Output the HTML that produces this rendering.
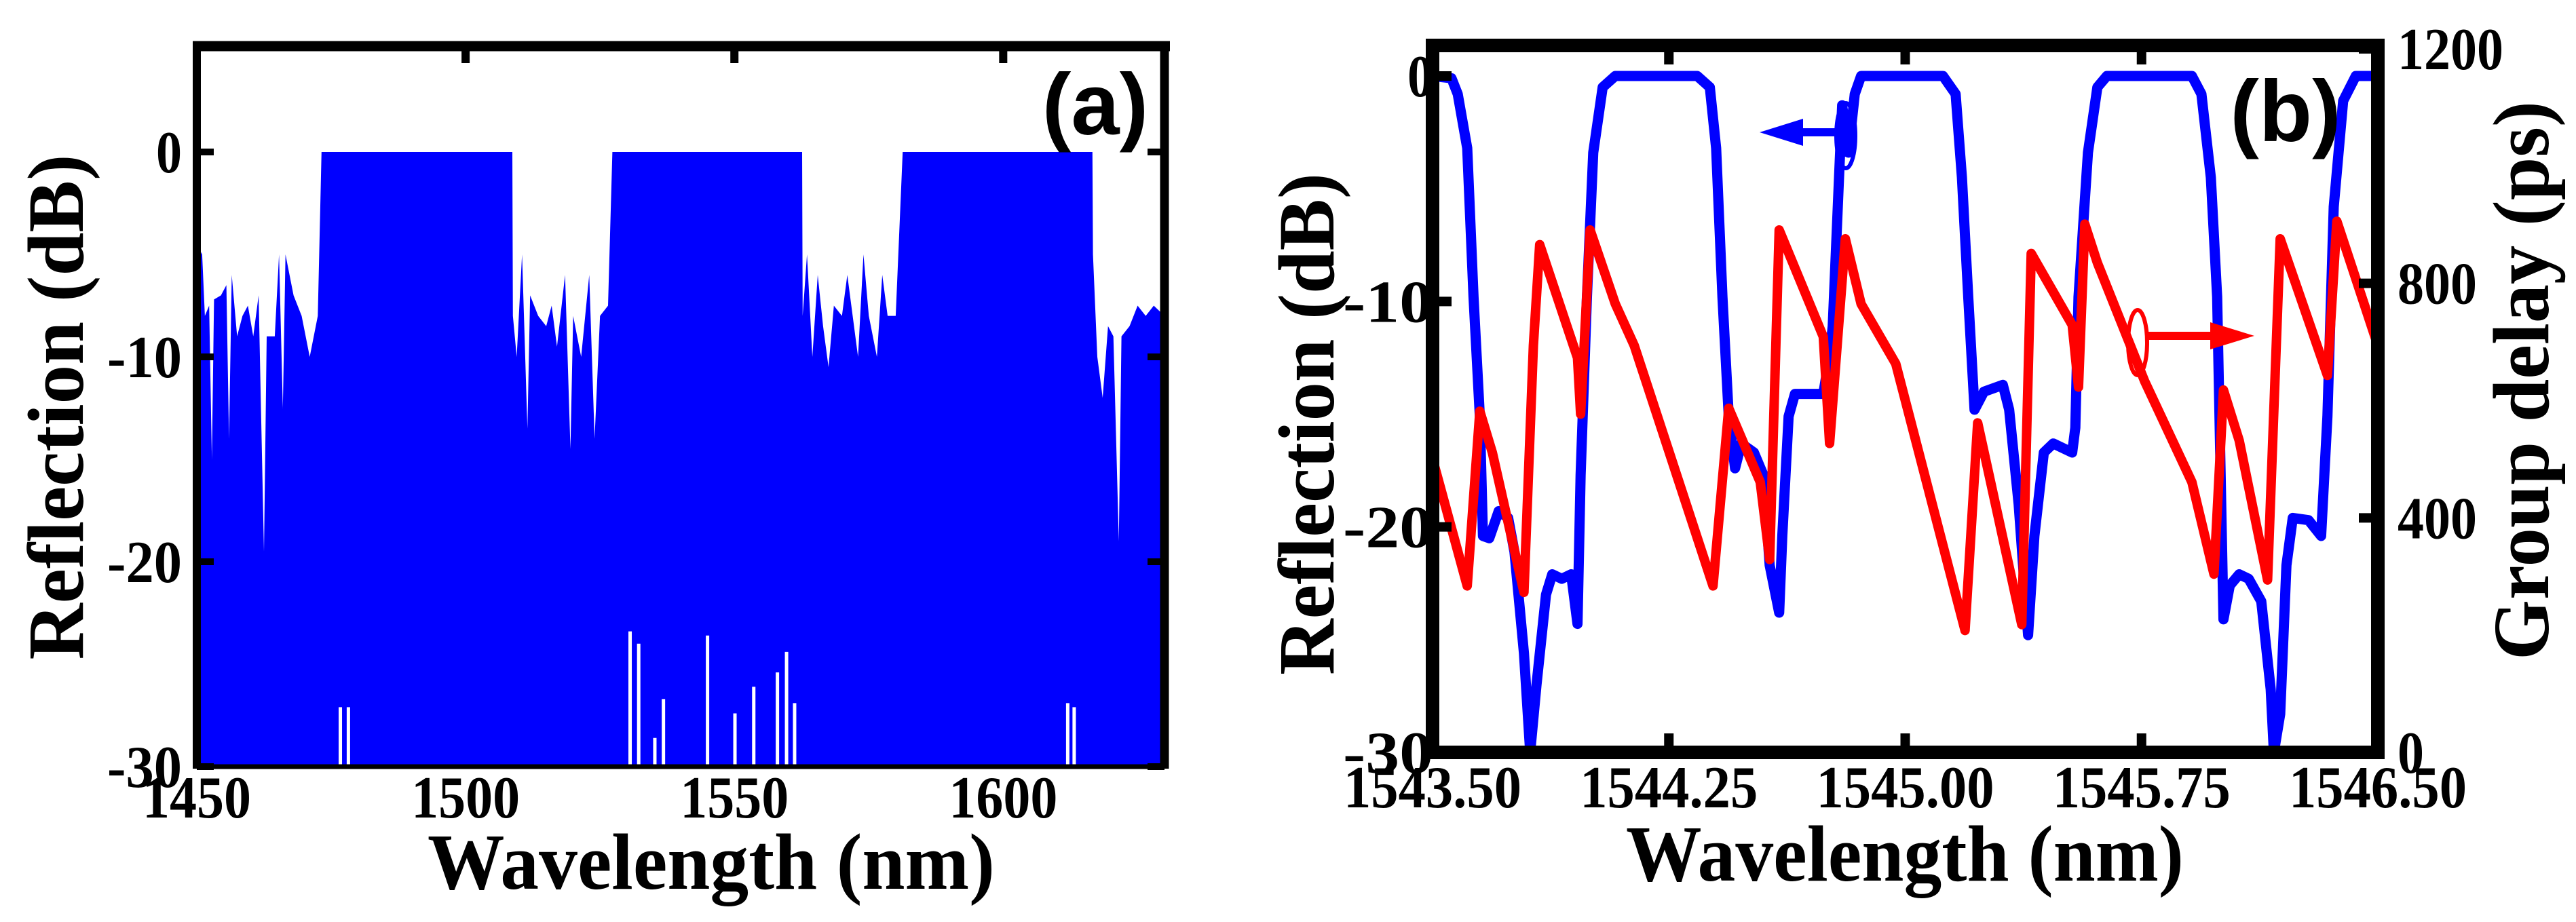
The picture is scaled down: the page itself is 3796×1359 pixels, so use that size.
<!DOCTYPE html>
<html><head><meta charset="utf-8"><style>
html,body{margin:0;padding:0;background:#fff;}
svg{display:block;}
text{font-family:"Liberation Serif",serif;font-weight:bold;fill:#000;}
.lab{font-family:"Liberation Sans",sans-serif;}
</style></head><body>
<svg id="fig" width="3796" height="1359" viewBox="0 0 3796 1359" xmlns="http://www.w3.org/2000/svg">
<g id="pa"></g>
<g id="pb"></g>
</svg>
<script>
// ---------- Panel (a) data ----------
const aTicksX = [1450, 1500, 1550, 1600];
const aTicksY = [0, -10, -20, -30];
const aSpecW = [1450,1451,1451.5,1452.3,1452.8,1453.2,1454.5,1455.5,1456,1456.5,1457.5,1458.5,1459.5,1460.5,1461.5,1462.5,1463,1464.5,1465.3,1466,1466.5,1468,1469.5,1471,1472.5,1473.2,1508.7,
 1508.8,1509.5,1510.5,1511.5,1512,1513.5,1515,1516,1517,1518.5,1519.5,1520,1521.5,1523,1524,1525,1526.5,1527.3,1562.6,
 1562.7,1563.5,1564.5,1565.5,1566.5,1567.5,1568.5,1570,1571,1572,1573,1574,1575,1576.5,1577.5,1578.5,1580,1581.3,1616.6,
 1616.7,1617.5,1618.5,1619.5,1620.5,1621.5,1622,1623.5,1625,1626.5,1628,1630];
const aSpecR = [-4.5,-5,-8,-7.5,-15,-7.2,-7,-6.5,-14,-6,-9,-8,-7.5,-9,-7,-19.5,-9,-9,-5,-12.5,-5,-7,-8,-10,-8,0,0,
 -8,-10,-5,-13.5,-7,-8,-8.5,-7.5,-9.5,-6,-14.5,-8,-10,-6,-14,-8,-7.5,0,0,
 -8,-5,-10,-6,-8.5,-10.5,-7.5,-8,-6,-8,-10,-5,-8,-10,-6,-8,-8,0,0,
 -5,-10,-12,-8.5,-9,-19,-9,-8.5,-7.5,-8,-7.5,-8];
const aGapW = [1476.7,1478.2,1530.6,1532.2,1535.2,1536.8,1545.0,1550.1,1553.6,1558.0,1559.7,1561.2,1612.0,1613.2];
const aGapTop = [-27.1,-27.1,-23.4,-24,-28.6,-26.7,-23.6,-27.4,-26.1,-25.4,-24.4,-26.9,-26.9,-27.1];

// ---------- Panel (b) data ----------
const bTicksX = [1543.50, 1544.25, 1545.00, 1545.75, 1546.50];
const bTickLabelsX = ["1543.50","1544.25","1545.00","1545.75","1546.50"];
const bTicksY = [0, -10, -20, -30];
const bTicksY2 = [0, 400, 800, 1200];
const reflW = [1543.50,1543.56,1543.58,1543.61,1543.63,1543.65,1543.66,1543.68,1543.71,1543.74,1543.76,1543.79,1543.81,1543.83,1543.86,1543.88,1543.91,1543.94,1543.96,1543.97,1543.99,1544.01,1544.04,1544.08,1544.34,1544.38,1544.40,1544.42,1544.44,1544.46,1544.48,1544.52,1544.55,1544.57,1544.60,1544.61,1544.63,1544.65,1544.74,1544.76,1544.77,1544.79,1544.80,1544.82,1544.84,1544.86,1545.12,1545.16,1545.18,1545.20,1545.22,1545.25,1545.31,1545.33,1545.36,1545.39,1545.41,1545.44,1545.47,1545.53,1545.54,1545.55,1545.58,1545.61,1545.64,1545.91,1545.94,1545.97,1545.99,1546.01,1546.03,1546.06,1546.09,1546.13,1546.16,1546.17,1546.19,1546.21,1546.23,1546.28,1546.32,1546.34,1546.36,1546.39,1546.43,1546.50];
const reflDB = [0,-0.1,-0.8,-3.2,-9.8,-15.1,-20.4,-20.5,-19.3,-19.6,-21.1,-25.6,-30,-27,-23,-22.1,-22.3,-22.1,-24.3,-17.7,-9.8,-3.4,-0.5,0,0,-0.5,-3.2,-9.8,-15.1,-17.4,-16.3,-16.7,-17.7,-21.7,-23.8,-20.4,-15.1,-14.1,-14.1,-12.4,-11.1,-4.5,-1.3,-3.4,-0.8,0,0,-0.8,-4.5,-9.8,-14.8,-14,-13.7,-14.8,-19,-24.8,-20.4,-16.7,-16.3,-16.7,-15.6,-9.8,-3.4,-0.5,0,0,-0.8,-4.5,-9.8,-24.1,-22.6,-22.1,-22.3,-23.3,-27.2,-30,-28.3,-21.7,-19.6,-19.7,-20.4,-15.1,-5.8,-1.1,0,0];
const delayW = [1543.50,1543.61,1543.65,1543.69,1543.79,1543.82,1543.84,1543.96,1543.97,1544.00,1544.08,1544.14,1544.39,1544.44,1544.54,1544.57,1544.60,1544.74,1544.76,1544.81,1544.86,1544.97,1545.19,1545.23,1545.37,1545.40,1545.53,1545.55,1545.57,1545.61,1545.76,1545.91,1545.98,1546.01,1546.06,1546.15,1546.19,1546.34,1546.37,1546.50];
const delayPS = [501,284,582,511,273,694,866,673,577,891,765,694,284,587,461,329,891,709,527,876,765,663,208,562,218,851,729,623,901,835,633,461,304,618,532,294,876,643,906,694];

const NS = "http://www.w3.org/2000/svg";
function mk(parent, tag, attrs, txt){ const e=document.createElementNS(NS,tag); for(const k in attrs) e.setAttribute(k,attrs[k]); if(txt!==undefined) e.textContent=txt; parent.appendChild(e); return e; }

// ---------- Panel (a) ----------
(function(){
 const g=document.getElementById('pa');
 const L=290,R=1716,T=68,B=1130;
 const xmin=1450,xmax=1630;
 const X=w=>L+(w-xmin)/(xmax-xmin)*(R-L);
 const Y=d=>224+(-d)*(B-224)/30;
 // fill
 let pts=`${X(aSpecW[0])},${B} `;
 for(let i=0;i<aSpecW.length;i++) pts+=`${X(aSpecW[i]).toFixed(1)},${Y(aSpecR[i]).toFixed(1)} `;
 pts+=`${X(aSpecW[aSpecW.length-1])},${B}`;
 const f=mk(g,'polygon',{points:pts,fill:'#0000ff'});
 
 
 for(let i=0;i<aGapW.length;i++){
  const l=mk(g,'line',{x1:X(aGapW[i]),x2:X(aGapW[i]),y1:B,y2:Y(aGapTop[i]),stroke:'#fff','stroke-width':5});
  
  
 }
 // frame
 const fr=mk(g,'g',{});
 
 
 mk(fr,'line',{x1:L-6,x2:R+8,y1:T,y2:T,stroke:'#000','stroke-width':15});
 mk(fr,'line',{x1:L,x2:L,y1:T,y2:B+3,stroke:'#000','stroke-width':12});
 mk(fr,'line',{x1:R,x2:R,y1:T,y2:B+3,stroke:'#000','stroke-width':13});
 mk(fr,'line',{x1:L,x2:R,y1:B,y2:B,stroke:'#000','stroke-width':7});
 aTicksX.forEach(v=>{
  mk(fr,'line',{x1:X(v),x2:X(v),y1:T,y2:T+25,stroke:'#000','stroke-width':12});
  const t=mk(g,'text',{x:X(v),y:1205,'text-anchor':'middle','font-size':88,textLength:160,lengthAdjust:'spacingAndGlyphs'},String(v));
  
  
 });
 aTicksY.forEach(v=>{
  mk(fr,'line',{x1:L,x2:L+25,y1:Y(v),y2:Y(v),stroke:'#000','stroke-width':10});
  mk(fr,'line',{x1:R-25,x2:R,y1:Y(v),y2:Y(v),stroke:'#000','stroke-width':10});
  const s=String(v);
  const t=mk(g,'text',{x:268,y:Y(v)+30,'text-anchor':'end','font-size':88,textLength:s.length===1?38:110,lengthAdjust:'spacingAndGlyphs'},s);
  
  
 });
 const xl=mk(g,'text',{x:1048,y:1310,'text-anchor':'middle','font-size':118,textLength:836,lengthAdjust:'spacingAndGlyphs'},'Wavelength (nm)');
 
 
 const yl=mk(g,'text',{x:0,y:0,'text-anchor':'middle','font-size':118,textLength:745,lengthAdjust:'spacingAndGlyphs',transform:'translate(122,600) rotate(-90)'},'Reflection (dB)');
 
 
 const pl=mk(g,'text',{x:1614,y:198,'text-anchor':'middle','font-size':128,class:'lab'},'(a)');
 
 
})();

// ---------- Panel (b) ----------
(function(){
 const g=document.getElementById('pb');
 const L=2111,R=3504,T=67,B=1109;
 const xmin=1543.5,xmax=1546.5;
 const X=w=>L+(w-xmin)/(xmax-xmin)*(R-L);
 const Y=d=>112+(-d)*(B-112)/30;
 const Y2=p=>B-p*(B-72)/1200;
 let p1='';
 for(let i=0;i<reflW.length;i++) p1+=`${X(reflW[i]).toFixed(1)},${Y(reflDB[i]).toFixed(1)} `;
 const bl=mk(g,'polyline',{points:p1,fill:'none',stroke:'#0000ff','stroke-width':15,'stroke-linejoin':'round'});
 
 
 let p2='';
 for(let i=0;i<delayW.length;i++) p2+=`${X(delayW[i]).toFixed(1)},${Y2(delayPS[i]).toFixed(1)} `;
 const rl=mk(g,'polyline',{points:p2,fill:'none',stroke:'#ff0000','stroke-width':14,'stroke-linejoin':'round'});
 
 
 // annotation arrows
 const a1=mk(g,'g',{});
 
 
 mk(a1,'ellipse',{cx:2720,cy:200,rx:14,ry:48,fill:'none',stroke:'#0000ff','stroke-width':6});
 mk(a1,'line',{x1:2710,x2:2640,y1:195,y2:195,stroke:'#0000ff','stroke-width':12});
 mk(a1,'polygon',{points:'2593,195 2657,175 2657,215',fill:'#0000ff'});
 const a2=mk(g,'g',{});
 
 
 mk(a2,'ellipse',{cx:3150,cy:505,rx:14,ry:48,fill:'none',stroke:'#ff0000','stroke-width':6});
 mk(a2,'line',{x1:3165,x2:3270,y1:495,y2:495,stroke:'#ff0000','stroke-width':12});
 mk(a2,'polygon',{points:'3322,495 3257,475 3257,515',fill:'#ff0000'});
 // frame
 const fr=mk(g,'g',{});
 
 
 mk(fr,'rect',{x:L,y:T,width:R-L,height:B-T,fill:'none',stroke:'#000','stroke-width':20});
 bTicksX.forEach((v,i)=>{
  mk(fr,'line',{x1:X(v),x2:X(v),y1:T,y2:T+28,stroke:'#000','stroke-width':14});
  mk(fr,'line',{x1:X(v),x2:X(v),y1:B-28,y2:B,stroke:'#000','stroke-width':14});
  const t=mk(g,'text',{x:X(v),y:1190,'text-anchor':'middle','font-size':88,textLength:262,lengthAdjust:'spacingAndGlyphs'},bTickLabelsX[i]);
  
  
 });
 bTicksY.forEach(v=>{
  mk(fr,'line',{x1:L,x2:L+28,y1:Y(v),y2:Y(v),stroke:'#000','stroke-width':14});
  const s=String(v);
  const t=mk(g,'text',{x:2112,y:Y(v)+30,'text-anchor':'end','font-size':88,textLength:s.length===1?38:133,lengthAdjust:'spacingAndGlyphs'},s);
  
  
 });
 bTicksY2.forEach(v=>{
  mk(fr,'line',{x1:R-28,x2:R,y1:Y2(v),y2:Y2(v),stroke:'#000','stroke-width':14});
  const s=String(v);
  const t=mk(g,'text',{x:3533,y:Y2(v)+30,'text-anchor':'start','font-size':88,textLength:s.length*39,lengthAdjust:'spacingAndGlyphs'},s);
  
  
 });
 const xl=mk(g,'text',{x:2807,y:1298,'text-anchor':'middle','font-size':118,textLength:822,lengthAdjust:'spacingAndGlyphs'},'Wavelength (nm)');
 
 
 const yl=mk(g,'text',{x:0,y:0,'text-anchor':'middle','font-size':118,textLength:740,lengthAdjust:'spacingAndGlyphs',transform:'translate(1965,625) rotate(-90)'},'Reflection (dB)');
 
 
 const yr=mk(g,'text',{x:0,y:0,'text-anchor':'middle','font-size':118,textLength:824,lengthAdjust:'spacingAndGlyphs',transform:'translate(3755,561) rotate(-90)'},'Group delay (ps)');
 
 
 const pl=mk(g,'text',{x:3368,y:208,'text-anchor':'middle','font-size':128,class:'lab'},'(b)');
 
 
})();
</script>
</body></html>
